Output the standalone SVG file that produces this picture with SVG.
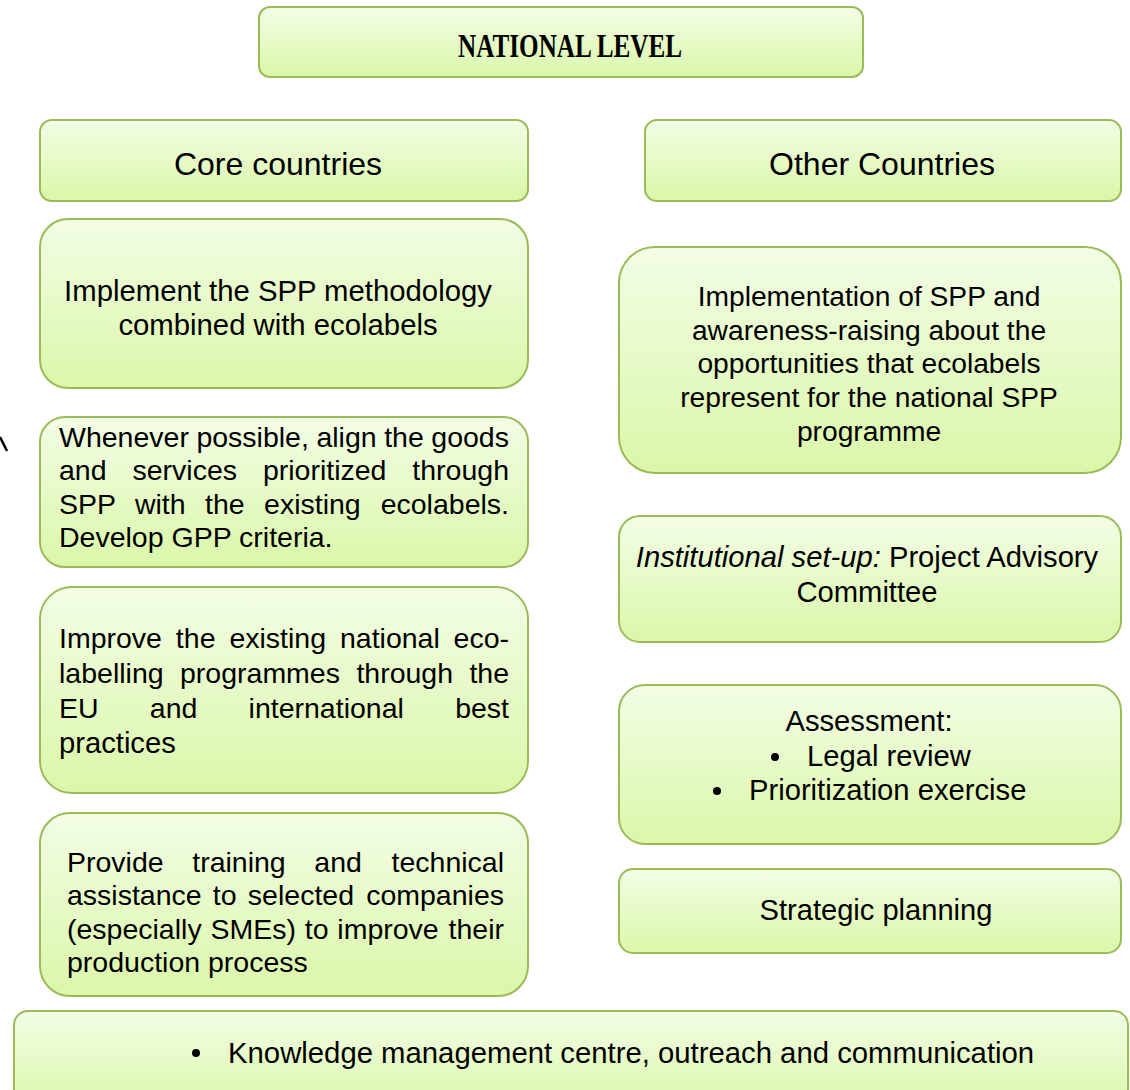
<svg xmlns="http://www.w3.org/2000/svg" width="1130" height="1090" viewBox="0 0 1130 1090">
  <defs>
    <linearGradient id="g" x1="0" y1="0" x2="0" y2="1">
      <stop offset="0" stop-color="#f3fde6"/>
      <stop offset="1" stop-color="#daf7a9"/>
    </linearGradient>
    <style>
      .box{fill:url(#g);stroke:#9bbb59;stroke-width:2}
      .t{font-family:"Liberation Sans",Arial,sans-serif;font-size:28.5px;fill:#000}
      .h{font-family:"Liberation Sans",Arial,sans-serif;font-size:32px;fill:#000}
      .c{text-anchor:middle}
      .e{text-anchor:end}
    </style>
  </defs>
  <rect width="1130" height="1090" fill="#fff"/>

  <g id="national-level">
    <rect class="box" x="259" y="7" width="604" height="70" rx="11"/>
    <text x="570" y="57" font-family="Liberation Serif,serif" font-weight="bold" font-size="34" text-anchor="middle" textLength="224" lengthAdjust="spacingAndGlyphs">NATIONAL LEVEL</text>
  </g>

  <g id="core-countries">
    <rect class="box" x="40" y="120" width="488" height="81" rx="12"/>
    <text class="h c" x="278" y="175">Core countries</text>
  </g>

  <g id="other-countries">
    <rect class="box" x="645" y="120" width="476" height="81" rx="12"/>
    <text class="h c" x="882" y="175">Other Countries</text>
  </g>

  <g id="core-1">
    <rect class="box" x="40" y="219" width="488" height="169" rx="28"/>
    <text class="t c" x="278" y="301" style="font-size:29.3px">Implement the SPP methodology</text>
    <text class="t c" x="278" y="335" style="font-size:29.3px">combined with ecolabels</text>
  </g>

  <g id="core-2">
    <rect class="box" x="40" y="417" width="488" height="150" rx="25"/>
    <text class="t" x="59" y="447" word-spacing="-0.4">Whenever possible, align the goods</text>
    <text class="t" x="59" y="480" word-spacing="18">and services prioritized</text>
    <text class="t e" x="509" y="480">through</text>
    <text class="t" x="59" y="514" word-spacing="11.5">SPP with the existing</text>
    <text class="t e" x="509" y="514">ecolabels.</text>
    <text class="t" x="59" y="547">Develop GPP criteria.</text>
  </g>

  <g id="core-3">
    <rect class="box" x="40" y="587" width="488" height="206" rx="32"/>
    <text class="t" x="59" y="648" word-spacing="6">Improve the existing national</text>
    <text class="t e" x="509" y="648">eco-</text>
    <text class="t" x="59" y="683" word-spacing="8.5">labelling programmes through</text>
    <text class="t e" x="509" y="683">the</text>
    <text class="t" x="59" y="718" word-spacing="43.3">EU and international</text>
    <text class="t e" x="509" y="718">best</text>
    <text class="t" x="59" y="753" style="font-size:29.2px">practices</text>
  </g>

  <g id="core-4">
    <rect class="box" x="40" y="813" width="488" height="183" rx="30"/>
    <text class="t" x="67" y="872" word-spacing="20.7">Provide training and</text>
    <text class="t e" x="504" y="872">technical</text>
    <text class="t" x="67" y="905" word-spacing="3.3">assistance to selected</text>
    <text class="t e" x="504" y="905">companies</text>
    <text class="t" x="67" y="939" word-spacing="0.9">(especially SMEs) to improve</text>
    <text class="t e" x="504" y="939">their</text>
    <text class="t" x="67" y="972">production process</text>
  </g>

  <g id="other-1">
    <rect class="box" x="619" y="247" width="502" height="226" rx="36"/>
    <text class="t c" x="869" y="306" style="font-size:28.2px">Implementation of SPP and</text>
    <text class="t c" x="869" y="340" style="font-size:28.2px">awareness-raising about the</text>
    <text class="t c" x="869" y="373" style="font-size:28.2px">opportunities that ecolabels</text>
    <text class="t c" x="869" y="407" style="font-size:28.2px">represent for the national SPP</text>
    <text class="t c" x="869" y="441" style="font-size:28.2px">programme</text>
  </g>

  <g id="other-2">
    <rect class="box" x="619" y="516" width="502" height="126" rx="21"/>
    <text class="t c" x="867" y="567" style="font-size:29.2px"><tspan font-style="italic">Institutional set-up:</tspan> Project Advisory</text>
    <text class="t c" x="867" y="602" style="font-size:29.2px">Committee</text>
  </g>

  <g id="other-3">
    <rect class="box" x="619" y="685" width="502" height="159" rx="26"/>
    <text class="t c" x="869" y="731" style="font-size:29.2px">Assessment:</text>
    <circle cx="775" cy="757" r="4"/>
    <text class="t" x="807" y="766" style="font-size:29.2px">Legal review</text>
    <circle cx="717" cy="791" r="4"/>
    <text class="t" x="749" y="800" style="font-size:29.2px">Prioritization exercise</text>
  </g>

  <g id="other-4">
    <rect class="box" x="619" y="869" width="502" height="84" rx="14"/>
    <text class="t c" x="876" y="920" style="font-size:29.1px">Strategic planning</text>
  </g>

  <g id="knowledge">
    <rect class="box" x="14" y="1011" width="1114" height="100" rx="14"/>
    <circle cx="196" cy="1053" r="4"/>
    <text class="t" x="228" y="1063" style="font-size:29.3px">Knowledge management centre, outreach and communication</text>
  </g>

  <g id="connectors">
    <path d="M0,437 L7,451" stroke="#000" stroke-width="2.5" fill="none"/>
  </g>
</svg>
